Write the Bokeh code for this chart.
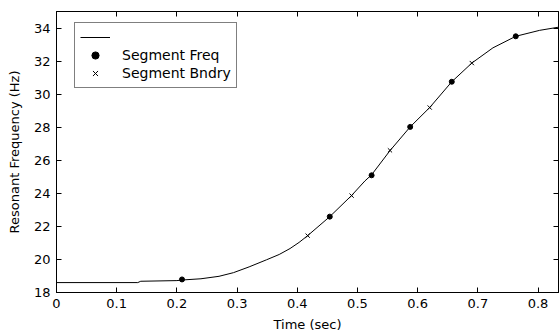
from bokeh.plotting import figure
from bokeh.models import Range1d, LinearAxis, Legend, LegendItem, FixedTicker
from bokeh.embed import file_html
from bokeh.resources import INLINE

# Curve
curve_t = [0.0, 0.135, 0.14, 0.20, 0.21, 0.24, 0.27, 0.294, 0.32, 0.349, 0.37, 0.388, 0.403, 0.4173, 0.454,
           0.49, 0.5124, 0.5235, 0.554, 0.5876, 0.62, 0.6567, 0.69, 0.725, 0.763, 0.8027, 0.834]
curve_f = [18.6, 18.6, 18.68, 18.72, 18.76, 18.83, 18.98, 19.2, 19.55, 19.98, 20.3, 20.66, 21.03, 21.44, 22.59,
           23.86, 24.75, 25.12, 26.58, 28.02, 29.19, 30.75, 31.88, 32.8, 33.5, 33.86, 34.05]

# Segment frequencies (dots)
freq_t = [0.2085, 0.454, 0.5235, 0.5876, 0.6567, 0.763]
freq_f = [18.79, 22.59, 25.09, 28.02, 30.75, 33.5]

# Segment boundaries (crosses)
bnd_t = [0.4173, 0.4903, 0.554, 0.620, 0.690]
bnd_f = [21.44, 23.86, 26.6, 29.19, 31.88]

x_ticks = [0, 0.1, 0.2, 0.3, 0.4, 0.5, 0.6, 0.7, 0.8]
y_ticks = [18, 20, 22, 24, 26, 28, 30, 32, 34]

FONT = "DejaVu Sans"

p = figure(width=559, height=331, output_backend="svg", toolbar_location=None,
           x_range=Range1d(0, 0.834), y_range=Range1d(18, 35),
           frame_width=502, frame_height=281,
           min_border_left=56, min_border_right=1, min_border_top=11, min_border_bottom=39)
p.grid.visible = False
p.outline_line_color = "black"
p.outline_line_width = 1

ln = p.line(curve_t, curve_f, line_color="black", line_width=1)
dots = p.scatter(freq_t, freq_f, marker="circle", size=5, fill_color="black", line_color="black")
xs = p.scatter(bnd_t, bnd_f, marker="x", size=6, line_color="black", line_width=1)

for ax in (p.xaxis[0], p.yaxis[0]):
    ax.major_tick_in = 5
    ax.major_tick_out = 0
    ax.minor_tick_in = 0
    ax.minor_tick_out = 0
    ax.axis_line_color = "black"
    ax.major_label_text_font = FONT
    ax.major_label_text_font_size = "13px"
    ax.major_label_text_color = "black"
    ax.axis_label_text_font = FONT
    ax.axis_label_text_font_size = "13px"
    ax.axis_label_text_font_style = "normal"
    ax.axis_label_text_color = "black"

p.xaxis[0].ticker = FixedTicker(ticks=x_ticks)
p.yaxis[0].ticker = FixedTicker(ticks=y_ticks)
p.xaxis[0].axis_label = "Time (sec)"
p.yaxis[0].axis_label = "Resonant Frequency (Hz)"
p.xaxis[0].major_label_standoff = 6
p.yaxis[0].major_label_standoff = 6
p.xaxis[0].axis_label_standoff = 6
p.yaxis[0].axis_label_standoff = 9

for loc, ticks in (("right", y_ticks), ("above", x_ticks)):
    a = LinearAxis(ticker=FixedTicker(ticks=ticks))
    a.major_tick_in = 5
    a.major_tick_out = 0
    a.minor_tick_in = 0
    a.minor_tick_out = 0
    a.major_label_text_font_size = "0px"
    a.major_label_standoff = 0
    a.axis_line_color = "black"
    a.major_label_overrides = {t: "" for t in ticks}
    p.add_layout(a, loc)

legend = Legend(items=[
    LegendItem(label=" ", renderers=[ln]),
    LegendItem(label="Segment Freq", renderers=[dots]),
    LegendItem(label="Segment Bndry", renderers=[xs]),
], location=(18, 204))
legend.border_line_color = "black"
legend.border_line_width = 1
legend.background_fill_alpha = 1
legend.label_text_font = FONT
legend.label_text_font_size = "14px"
legend.label_text_color = "black"
legend.glyph_width = 30
legend.glyph_height = 18
legend.label_height = 18
legend.spacing = 0
legend.padding = 5
legend.margin = 0
legend.label_standoff = 12
p.add_layout(legend, "center")

open("out.html", "w").write(file_html(p, INLINE))
